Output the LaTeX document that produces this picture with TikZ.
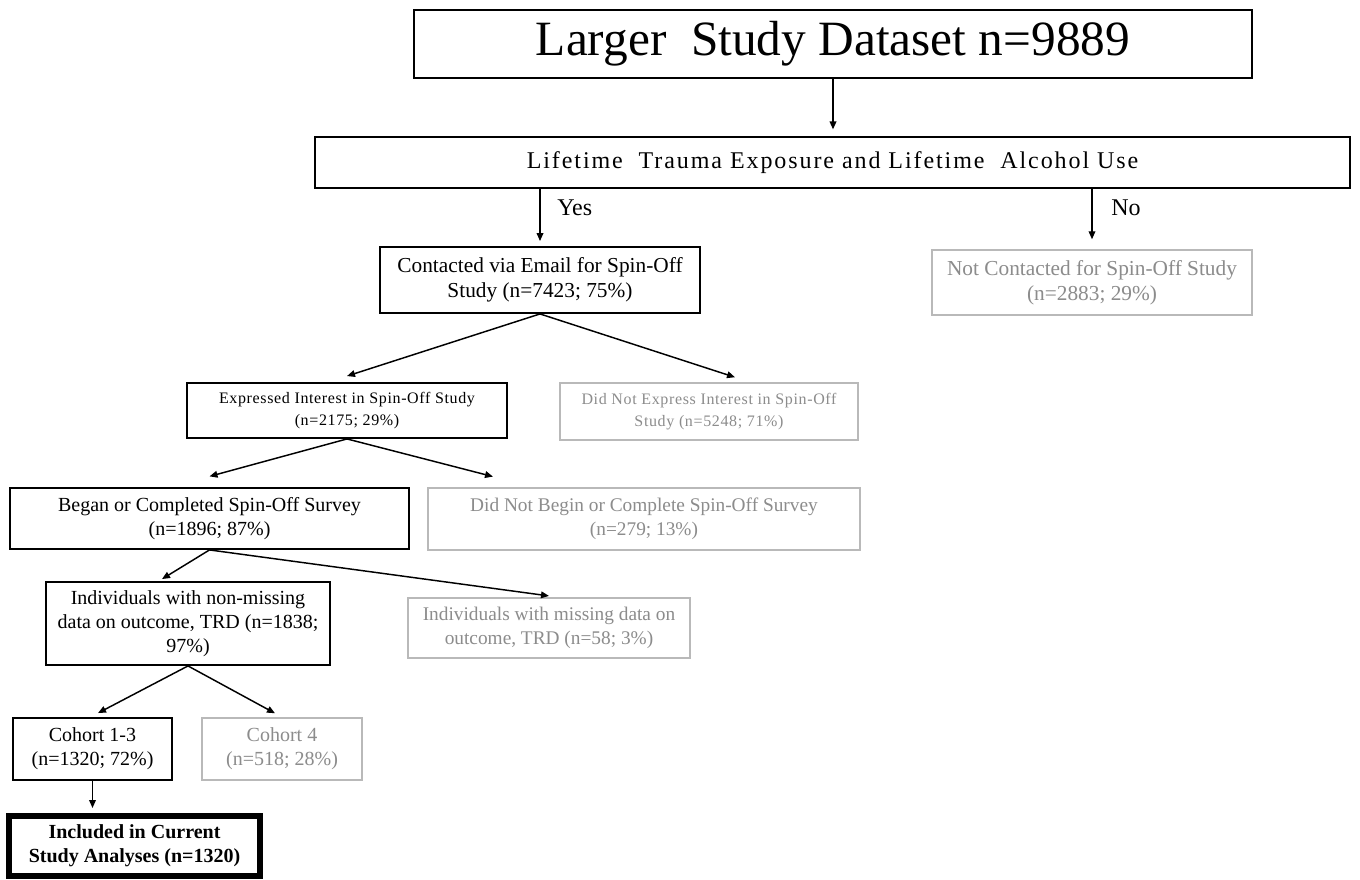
\documentclass[tikz,border=0pt]{standalone}
\usepackage{fontspec}
\setmainfont{Liberation Serif}
\usetikzlibrary{arrows.meta,calc}
\definecolor{gtxt}{RGB}{140,140,140}
\definecolor{gbox}{RGB}{185,185,185}
\tikzset{
  x=0.75pt,y=-0.75pt,
  wh/.style 2 args={minimum width=#1*0.75pt,minimum height=#2*0.75pt},
  box/.style={draw=black,line width=1.4pt,inner sep=0pt,align=center},
  gbox/.style={draw=gbox,line width=1.1pt,inner sep=0pt,align=center,text=gtxt},
  fbox/.style={draw=black,line width=4pt,inner sep=0pt,align=center,font=\fontsize{15}{18}\selectfont\bfseries},
  arr/.style={draw=black,line width=1.1pt,-{Triangle[length=6pt,width=5pt]}},
  lab/.style={font=\fontsize{18}{21}\selectfont,inner sep=0pt}
}
\begin{document}
\begin{tikzpicture}
\useasboundingbox (0,0) rectangle (1360,880);
\fill[white] (0,0) rectangle (1360,880);
% boxes
\node[box,wh={838}{68},font=\fontsize{37}{42}\selectfont] (top) at (833,44) {Larger\ \ Study Dataset n=9889};
\node[box,wh={1035}{51},font=\fontsize{18}{21}\selectfont\addfontfeature{LetterSpace=8}] (life) at (832.5,162.5) {Lifetime\ \ Trauma Exposure and Lifetime\ \ Alcohol Use};
\node[box,wh={320}{66},font=\fontsize{16}{19}\selectfont] (contact) at (540,280) {Contacted via Email for Spin-Off\\Study (n=7423; 75\%)};
\node[gbox,wh={320}{65},font=\fontsize{16}{19}\selectfont] (notc) at (1092,282.5) {Not Contacted for Spin-Off Study\\(n=2883; 29\%)};
\node[box,wh={320}{55},font=\fontsize{12}{16}\selectfont\addfontfeature{LetterSpace=4}] (expr) at (347,410.5) {Expressed Interest in Spin-Off Study\\(n=2175; 29\%)};
\node[gbox,wh={298}{57},font=\fontsize{12}{16}\selectfont\addfontfeature{LetterSpace=4}] (noexpr) at (709,411.5) {Did Not Express Interest in Spin-Off\\Study (n=5248; 71\%)};
\node[box,wh={399}{61},font=\fontsize{15}{18}\selectfont] (began) at (209.5,518.5) {Began or Completed Spin-Off Survey\\(n=1896; 87\%)};
\node[gbox,wh={432}{62},font=\fontsize{14.5}{18}\selectfont] (nobegin) at (644,519) {Did Not Begin or Complete Spin-Off Survey\\(n=279; 13\%)};
\node[box,wh={284}{83},font=\fontsize{15}{18}\selectfont] (nonmiss) at (188,623.5) {Individuals with non-missing\\data on outcome, TRD (n=1838;\\97\%)};
\node[gbox,wh={282}{60},font=\fontsize{14.5}{18}\selectfont] (miss) at (549,628) {Individuals with missing data on\\outcome, TRD (n=58; 3\%)};
\node[box,wh={159}{62},font=\fontsize{15}{18}\selectfont] (c13) at (92.5,749) {Cohort 1-3\\(n=1320; 72\%)};
\node[gbox,wh={160}{62},font=\fontsize{15}{18}\selectfont] (c4) at (282,749) {Cohort 4\\(n=518; 28\%)};
\node[fbox,wh={251}{60}] (incl) at (134.5,846) {Included in Current\\Study Analyses (n=1320)};
% x positions of free arrow ends
\coordinate (xc2) at (735,0);
\coordinate (xe2) at (493,0);
\coordinate (xb1) at (162,0);
\coordinate (xm1) at (98,0);
\coordinate (xm2) at (275,0);
% connectors
\draw[arr] (top.south) -- ([yshift=5pt]life.north -| top.south);
\draw[arr] (life.south -| contact.north) -- ([yshift=3.75pt]contact.north);
\draw[arr] (life.south -| notc.north) -- ([yshift=7.5pt]notc.north);
\node[lab,anchor=west] (yes) at (557,208) {Yes};
\node[lab,anchor=west] (no) at (1111,208) {No};
\draw[arr] (contact.south) -- ([yshift=4.5pt]expr.north);
\draw[arr] (contact.south) -- ([yshift=3.75pt]noexpr.north -| xc2);
\draw[arr] (expr.south) -- ([yshift=8pt]began.north);
\draw[arr] (expr.south) -- ([yshift=8pt]nobegin.north -| xe2);
\draw[arr] (began.south) -- ([yshift=1.5pt]nonmiss.north -| xb1);
\draw[arr] (began.south) -- ([yshift=1pt]miss.north);
\draw[arr] (nonmiss.south) -- ([yshift=3pt]c13.north -| xm1);
\draw[arr] (nonmiss.south) -- ([yshift=3pt]c4.north -| xm2);
\draw[arr] (c13.south) -- ([yshift=4pt]incl.north -| c13.south);
\end{tikzpicture}
\end{document}
